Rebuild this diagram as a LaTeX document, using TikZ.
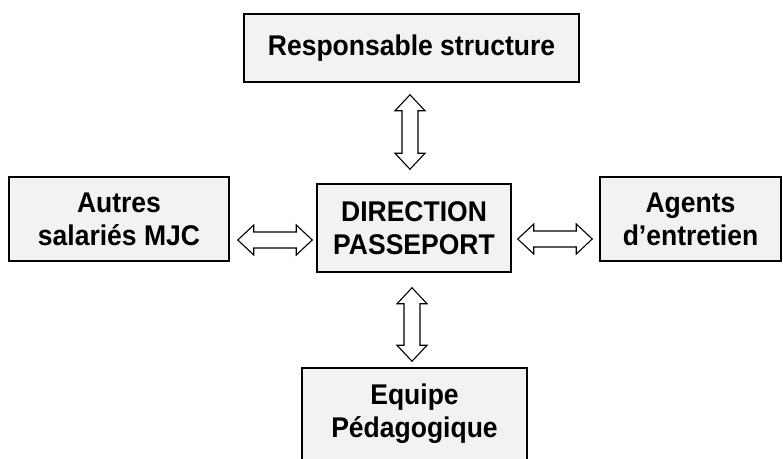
\documentclass[tikz,border=0pt]{standalone}
\usepackage{fontspec}
\setmainfont{Liberation Sans}[FakeStretch=0.93]
\usetikzlibrary{calc}
\definecolor{boxgray}{HTML}{F2F2F2}
\tikzset{
  box/.style={draw=black, line width=1.5pt, fill=boxgray, rectangle, align=center,
    inner sep=0pt, font=\fontsize{28.5}{33}\selectfont\bfseries},
  hollow/.style={draw=black, line width=1.1pt, fill=white, line join=miter}
}
\newcommand{\harrow}[2]{%
  \draw[hollow] (#1) -- ++(16,-15) -- ++(0,7) -- ($(#2)+(-16,-8)$) -- ++(0,-7) -- (#2)
    -- ++(-16,15) -- ++(0,-7) -- ($(#1)+(16,8)$) -- ++(0,7) -- cycle;}
\newcommand{\varrow}[2]{%
  \draw[hollow] (#1) -- ++(-15,16) -- ++(7,0) -- ($(#2)+(-8,-16)$) -- ++(-7,0) -- (#2)
    -- ++(15,-16) -- ++(-7,0) -- ($(#1)+(8,16)$) -- ++(7,0) -- cycle;}
\begin{document}
\begin{tikzpicture}[x=1pt,y=-1pt]
  \useasboundingbox (0,0) rectangle (783,458);
  \clip (0,0) rectangle (783,458);
  \node[box, minimum width=335pt, minimum height=68pt] (top) at (411.5,48) {Responsable structure};
  \node[box, minimum width=220pt, minimum height=84pt] (left) at (119,219) {Autres\\salariés MJC};
  \node[box, minimum width=194pt, minimum height=88pt] (center) at (414,228) {DIRECTION\\PASSEPORT};
  \node[box, minimum width=181pt, minimum height=84pt] (right) at (690.5,219) {Agents\\d’entretien};
  \node[box, minimum width=225pt, minimum height=92pt] (bottom) at (414.5,414) {Equipe\\Pédagogique};
  % arrow end points
  \coordinate (l1) at ($(left.east |- 0,240)+(8,0)$);
  \coordinate (l2) at ($(center.west |- 0,240)+(-4,0)$);
  \coordinate (r1) at ($(center.east |- 0,239)+(6,0)$);
  \coordinate (r2) at ($(right.west |- 0,239)+(-7,0)$);
  \coordinate (t1) at ($(top.south -| 410,0)+(0,12)$);
  \coordinate (t2) at ($(center.north -| 410,0)+(0,-14)$);
  \coordinate (b1) at ($(center.south -| 412,0)+(0,15)$);
  \coordinate (b2) at ($(bottom.north -| 412,0)+(0,-6)$);
  \harrow{l1}{l2}
  \harrow{r1}{r2}
  \varrow{t1}{t2}
  \varrow{b1}{b2}
\end{tikzpicture}
\end{document}
